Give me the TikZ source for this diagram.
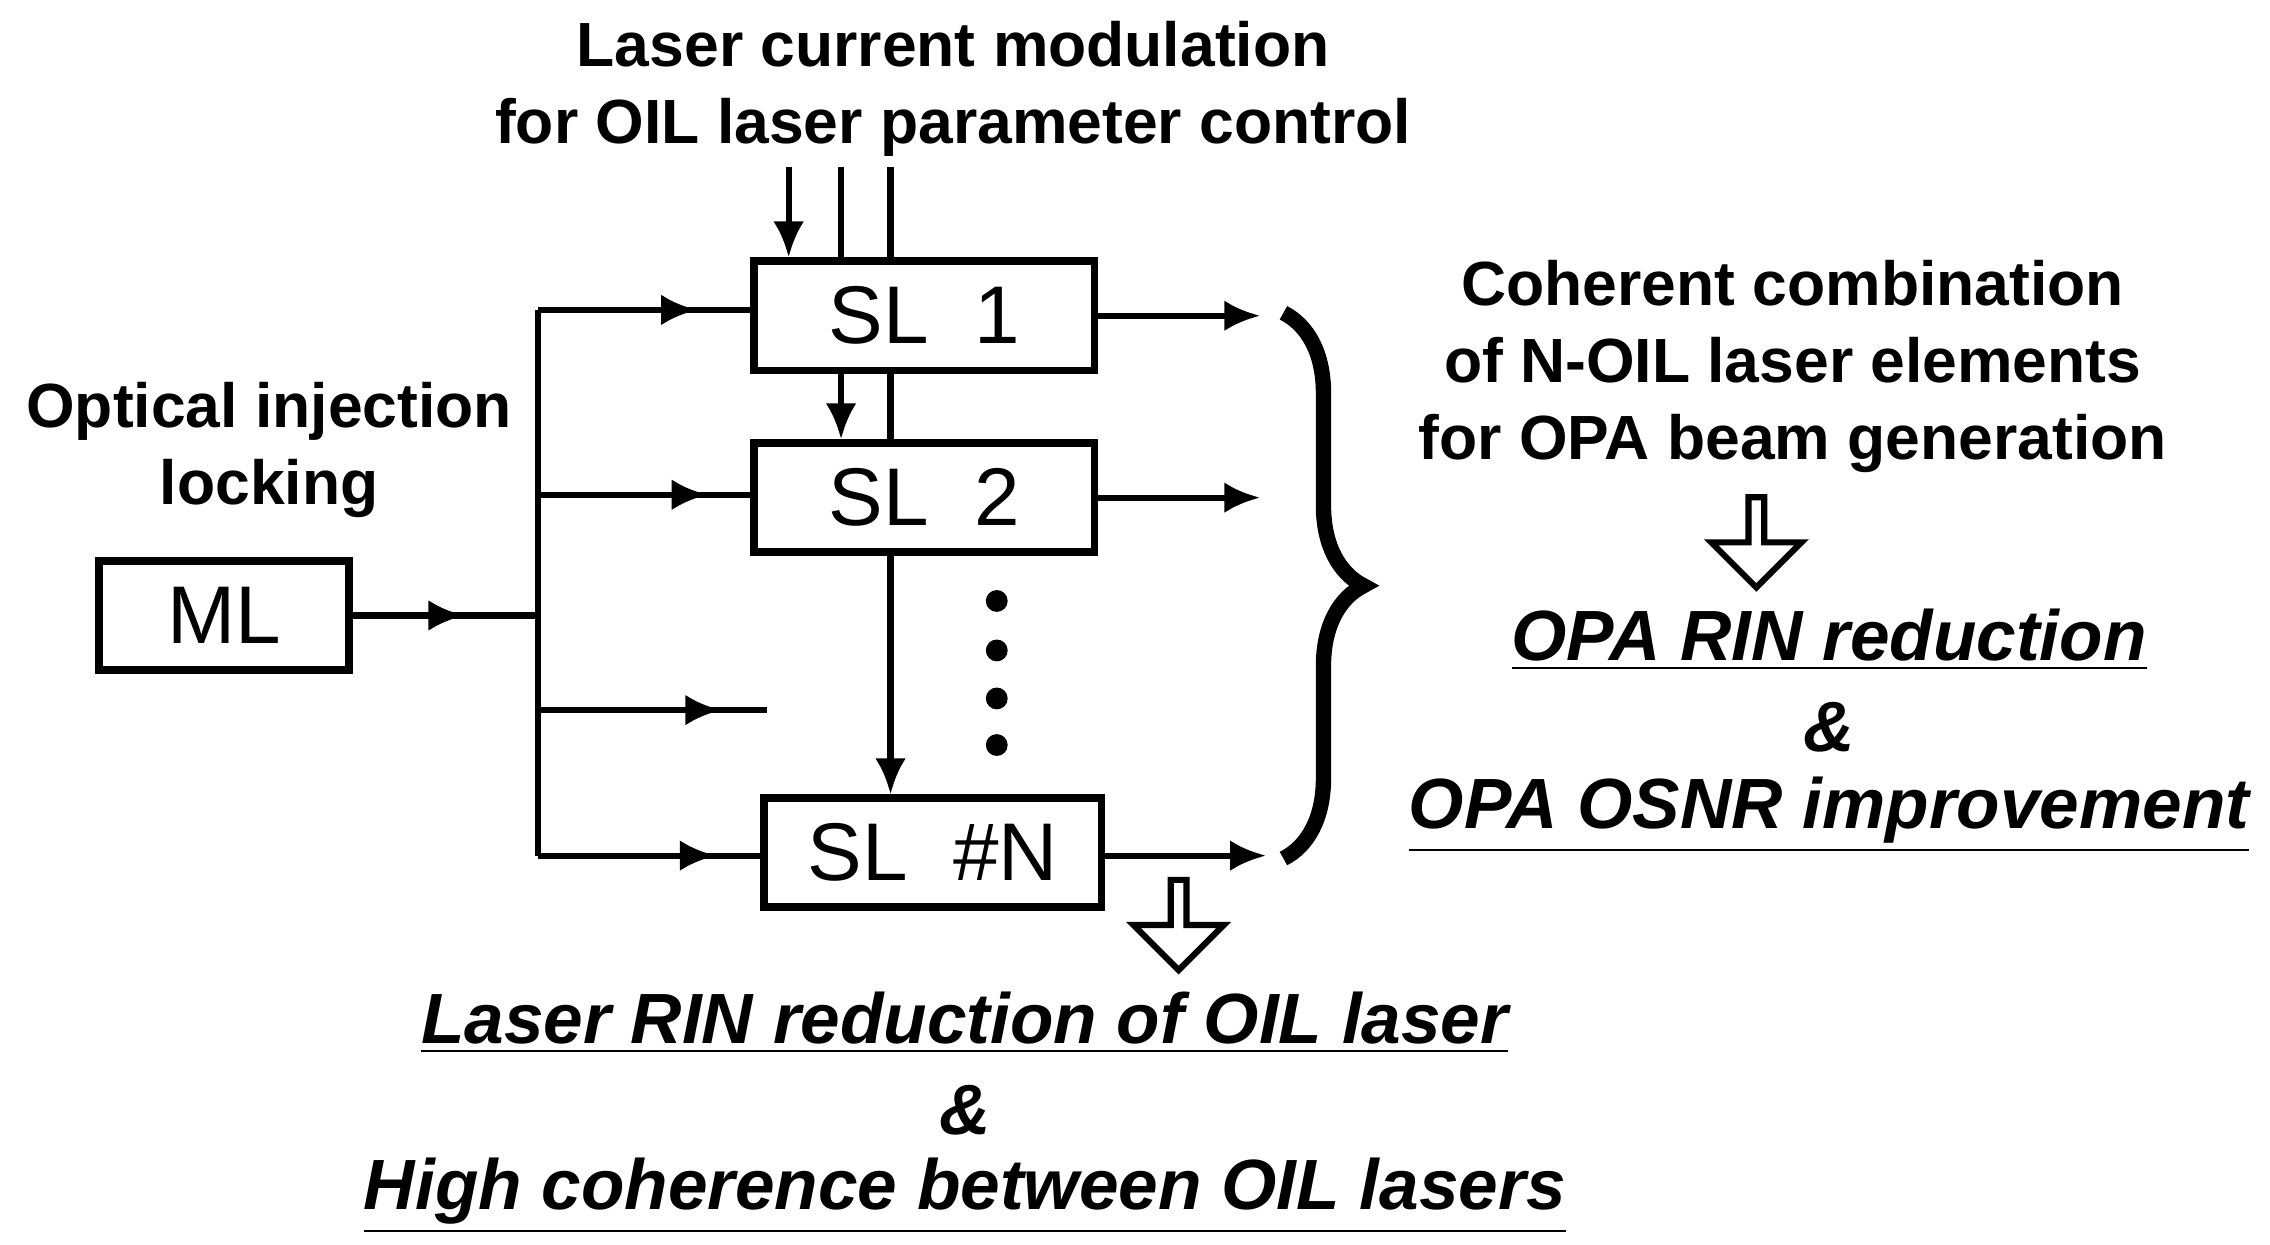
\documentclass[tikz,border=0pt]{standalone}
\usepackage{fontspec}
\setmainfont{Liberation Sans}
\usetikzlibrary{arrows.meta,decorations.markings,decorations.pathreplacing,shapes.arrows}
\begin{document}
\begin{tikzpicture}[x=0.01cm,y=-0.01cm,
  box/.style={draw,line width=1.5pt,minimum height=0.75cm,inner sep=0pt,font=\fontsize{16}{18}\selectfont},
  ln/.style={line width=1.2pt},
  midarr/.style={ln,postaction={decorate},decoration={markings,mark=at position #1 with {\arrow{Latex[length=7pt,width=6pt]}}}},
  endarr/.style={ln,-{Latex[length=7pt,width=6pt]}},
  hd/.style={font=\fontsize{12.2}{15}\selectfont\bfseries,align=center},
  it/.style={font=\fontsize{13.9}{15}\selectfont\bfseries\itshape},
  hollow/.style={draw,line width=1.2pt,single arrow,shape border rotate=270,minimum height=0.62cm,minimum width=0.62cm,single arrow head extend=0.1cm,inner sep=0pt,single arrow tip angle=90}]
\useasboundingbox (0,0) rectangle (1560,855);
\node[box,minimum width=1.72cm] (ml) at (154,423) {ML};
\node[box,minimum width=2.34cm] (s1) at (635,217) {SL\ \ 1};
\node[box,minimum width=2.34cm] (s2) at (635,342) {SL\ \ 2};
\node[box,minimum width=2.32cm] (sn) at (641,586) {SL\ \ \#N};
\coordinate (j) at (370,423);
\coordinate (bt) at (370,213);
\coordinate (bb) at (370,588);
\coordinate (fe) at (527,488);
\draw[ln] (bt) -- (bb);
\draw[midarr=0.6] (ml.east) -- (j);
\draw[midarr=0.75] (bt) -- (s1.west|-bt);
\draw[midarr=0.8] (370,340) -- (s2.west|-370,340);
\draw[midarr=0.8] (370,488) -- (fe);
\draw[midarr=0.8] (bb) -- (sn.west|-bb);
\coordinate (o1) at (866,217); \coordinate (o2) at (866,342); \coordinate (on) at (870,588);
\draw[endarr] (s1.east) -- (o1);
\draw[endarr] (s2.east) -- (o2);
\draw[endarr] (sn.east|-on) -- (on);
\coordinate (c1) at (542,115); \coordinate (c2) at (578,115); \coordinate (c3) at (612,115);
\draw[endarr] (c1) -- (c1|-s1.north);
\draw[ln] (c2) -- (c2|-s1.north);
\draw[endarr] (c2|-s1.south) -- (c2|-s2.north);
\draw[ln] (c3) -- (c3|-s1.north);
\draw[ln] (c3|-s1.south) -- (c3|-s2.north);
\draw[endarr] (c3|-s2.south) -- (c3|-sn.north);
\foreach \y/\n in {413/a,447/b,480/c,512/d} \fill (685,\y) circle (0.075cm);
\draw[line width=3pt,decorate,decoration={brace,amplitude=0.55cm}] (882,215) -- (882,590);
\node[hd] (t1) at (655,61) {Laser current modulation\\for OIL laser parameter control};
\node[hd] (t2) at (185,309) {Optical injection\\locking};
\node[hd] (t3) at (1232,252) {Coherent combination\\of N-OIL laser elements\\for OPA beam generation};
\node[hollow] (h1) at (1207,370) {};
\node[hollow] (h2) at (810,633) {};
\node[it] (r1) at (1257,440) {\underline{OPA RIN reduction}};
\node[it] (r2) at (1257,500) {\&};
\node[it] (r3) at (1257,560) {\underline{OPA OSNR improvement}};
\node[it] (b1) at (663,703) {\underline{Laser RIN reduction of OIL laser}};
\node[it] (b2) at (663,763) {\&};
\node[it] (b3) at (663,822) {\underline{High coherence between OIL lasers}};
\end{tikzpicture}
\end{document}
